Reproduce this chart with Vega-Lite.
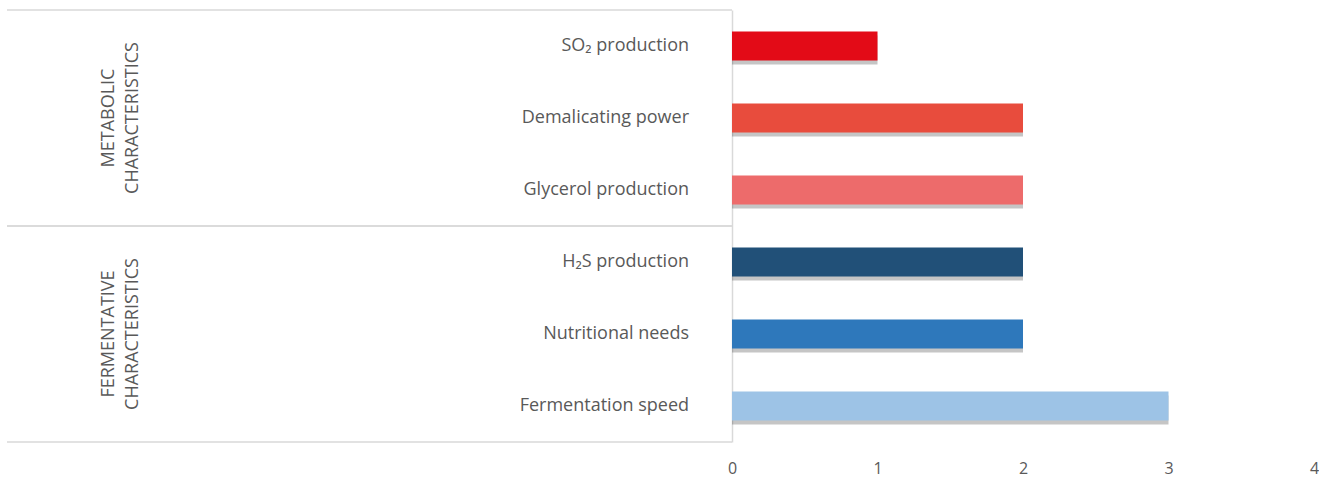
{
  "$schema": "https://vega.github.io/schema/vega-lite/v6.json",
  "padding": {"left": 6, "top": 9, "right": 0, "bottom": 0},
  "background": "white",
  "bounds": "flush",
  "config": {"view": {"stroke": null}, "font": "Open Sans"},
  "datasets": {
    "items": [
      {"category": "SO₂ production", "group": "METABOLIC CHARACTERISTICS", "score": 1},
      {"category": "Demalicating power", "group": "METABOLIC CHARACTERISTICS", "score": 2},
      {"category": "Glycerol production", "group": "METABOLIC CHARACTERISTICS", "score": 2},
      {"category": "H₂S production", "group": "FERMENTATIVE CHARACTERISTICS", "score": 2},
      {"category": "Nutritional needs", "group": "FERMENTATIVE CHARACTERISTICS", "score": 2},
      {"category": "Fermentation speed", "group": "FERMENTATIVE CHARACTERISTICS", "score": 3}
    ],
    "groups": [
      {"group": "METABOLIC CHARACTERISTICS"},
      {"group": "FERMENTATIVE CHARACTERISTICS"}
    ]
  },
  "spacing": 0,
  "hconcat": [
    {
      "width": 725,
      "height": 432,
      "layer": [
        {
          "data": {"name": "groups"},
          "mark": {"type": "rule", "color": "#d9d9d9", "strokeWidth": 1.5},
          "encoding": {
            "y": {"field": "group", "type": "nominal", "sort": null, "bandPosition": 0,
              "scale": {"type": "band", "domain": ["METABOLIC CHARACTERISTICS", "FERMENTATIVE CHARACTERISTICS"], "paddingInner": 0, "paddingOuter": 0},
              "axis": null}
          }
        },
        {
          "data": {"name": "groups"},
          "mark": {"type": "rule", "color": "#d9d9d9", "strokeWidth": 1.5},
          "encoding": {
            "y": {"field": "group", "type": "nominal", "sort": null, "bandPosition": 1,
              "scale": {"type": "band", "domain": ["METABOLIC CHARACTERISTICS", "FERMENTATIVE CHARACTERISTICS"], "paddingInner": 0, "paddingOuter": 0},
              "axis": null}
          }
        },
        {
          "data": {"name": "groups"},
          "mark": {"type": "text", "angle": 270, "lineBreak": " ", "fontSize": 18, "lineHeight": 24, "color": "#595959", "align": "center", "baseline": "middle"},
          "encoding": {
            "y": {"field": "group", "type": "nominal", "sort": null,
              "scale": {"type": "band", "domain": ["METABOLIC CHARACTERISTICS", "FERMENTATIVE CHARACTERISTICS"], "paddingInner": 0, "paddingOuter": 0},
              "axis": null},
            "x": {"datum": 0.1407, "type": "quantitative", "scale": {"domain": [0, 1]}, "axis": null},
            "text": {"field": "group"}
          }
        },
        {
          "data": {"name": "items"},
          "mark": {"type": "text", "align": "right", "baseline": "middle", "fontSize": 18, "color": "#595959"},
          "encoding": {
            "y": {"field": "category", "type": "nominal", "sort": null,
              "scale": {"type": "band", "paddingInner": 0.6, "paddingOuter": 0.3},
              "axis": null},
            "x": {"datum": 0.9407, "type": "quantitative", "scale": {"domain": [0, 1]}, "axis": null},
            "text": {"field": "category"}
          }
        }
      ],
      "resolve": {"scale": {"y": "independent"}}
    },
    {
      "width": 582,
      "height": 432,
      "data": {"name": "items"},
      "layer": [
        {
          "mark": {"type": "bar", "color": "#404040", "opacity": 0.3},
          "encoding": {
            "y": {"field": "category", "type": "nominal", "sort": null,
              "scale": {"type": "band", "paddingInner": 0.6, "paddingOuter": 0.3},
              "axis": {"labels": false, "ticks": false, "title": null, "domainColor": "#d9d9d9", "domainWidth": 1.5}},
            "yOffset": {"value": 4},
            "x": {"field": "score", "type": "quantitative", "scale": {"domain": [0, 4]},
              "axis": {"values": [0, 1, 2, 3, 4], "format": "d", "title": null, "grid": false, "domain": false, "ticks": false, "labelFlush": false, "labelPadding": 18, "labelFontSize": 16, "labelColor": "#595959", "labelFont": "Open Sans"}}
          }
        },
        {
          "mark": {"type": "bar"},
          "encoding": {
            "y": {"field": "category", "type": "nominal", "sort": null},
            "x": {"field": "score", "type": "quantitative"},
            "color": {"field": "category", "type": "nominal", "sort": null,
              "scale": {"domain": ["SO₂ production", "Demalicating power", "Glycerol production", "H₂S production", "Nutritional needs", "Fermentation speed"],
                "range": ["#e30b17", "#e84c3d", "#ed6b6b", "#215078", "#2e78bb", "#9dc3e6"]},
              "legend": null}
          }
        }
      ]
    }
  ]
}
